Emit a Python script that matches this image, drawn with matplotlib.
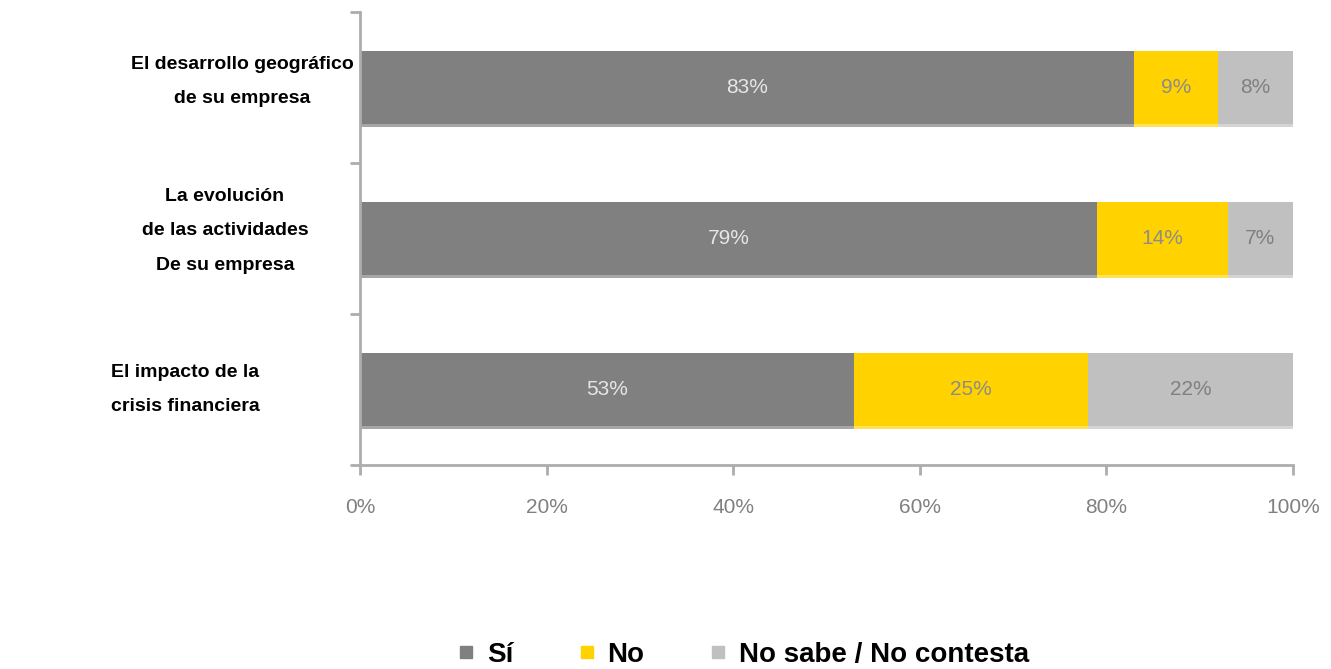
import matplotlib.pyplot as plt
from matplotlib.lines import Line2D
import matplotlib.transforms as mtransforms
import numpy as np

categorias = ['El desarrollo geográfico\nde su empresa',
              'La evolución\nde las actividades\nDe su empresa',
              'El impacto de la\ncrisis financiera']
si = [83, 79, 53]
no = [9, 14, 25]
ns = [8, 7, 22]
series = ['Sí', 'No', 'No sabe / No contesta']
colores = ['#808080', '#FFD200', '#C0C0C0']
sombras = ['#A6A6A6', '#FFE15A', '#D4D4D4']
texto_col = ['#E6E6E6', '#8C8C8C', '#808080']

fig = plt.figure(figsize=(13.31, 6.69), dpi=100)
ax = fig.add_axes([360/1331, 1-465/669, 933/1331, 453/669])

y = np.arange(len(categorias))
izq = np.zeros(len(categorias))
for vals, col, somb, tc in zip([si, no, ns], colores, sombras, texto_col):
    vals = np.array(vals, dtype=float)
    ax.barh(y + 0.015, vals, left=izq, height=0.49, color=somb, zorder=1)
    ax.barh(y, vals, left=izq, height=0.49, color=col, zorder=2)
    for yi, l, v in zip(y, izq, vals):
        ax.text(l + v/2, yi, f'{int(v)}%', ha='center', va='center', zorder=3,
                color=tc, fontsize=15, family=['Liberation Sans', 'DejaVu Sans'])
    izq += vals

ax.set_xlim(0, 100)
ax.set_ylim(2.5, -0.5)
ax.set_xticks(np.arange(0, 101, 20))
ax.set_xticklabels([f'{t}%' for t in range(0, 101, 20)], color='#808080', fontsize=15,
                   family=['Liberation Sans', 'DejaVu Sans'])
ax.set_yticks([-0.5, 0.5, 1.5, 2.5])
ax.set_yticklabels([])
ax.tick_params(axis='both', color='#ADADAD', width=2, length=7)
ax.tick_params(axis='x', pad=17)
for s in ['top', 'right']:
    ax.spines[s].set_visible(False)
for s in ['left', 'bottom']:
    ax.spines[s].set_color('#ADADAD')
    ax.spines[s].set_linewidth(2)

# etiquetas de categoria
trans = mtransforms.blended_transform_factory(fig.transFigure, ax.transData)
centros_x = [242, 225, 185]
desplaz_y = [-0.04, -0.05, 0.0]
for yi, cat, cx, dy in zip(y, categorias, centros_x, desplaz_y):
    ax.text(cx/1331, yi + dy, cat, transform=trans,
            ha='center', va='center', multialignment='center', fontsize=14, fontweight='bold',
            family=['Liberation Sans', 'DejaVu Sans'], linespacing=2.35)

handles = [Line2D([], [], marker='s', linestyle='', markersize=8, color=c) for c in colores]
fig.legend(handles, series, loc='center', bbox_to_anchor=(744/1331, 1-655/669), ncol=3, frameon=False,
           prop={'family': ['Liberation Sans', 'DejaVu Sans'], 'weight': 'bold', 'size': 20},
           handlelength=0.5, handletextpad=0.5, columnspacing=2.4)

fig.savefig('out.png', dpi=100)
